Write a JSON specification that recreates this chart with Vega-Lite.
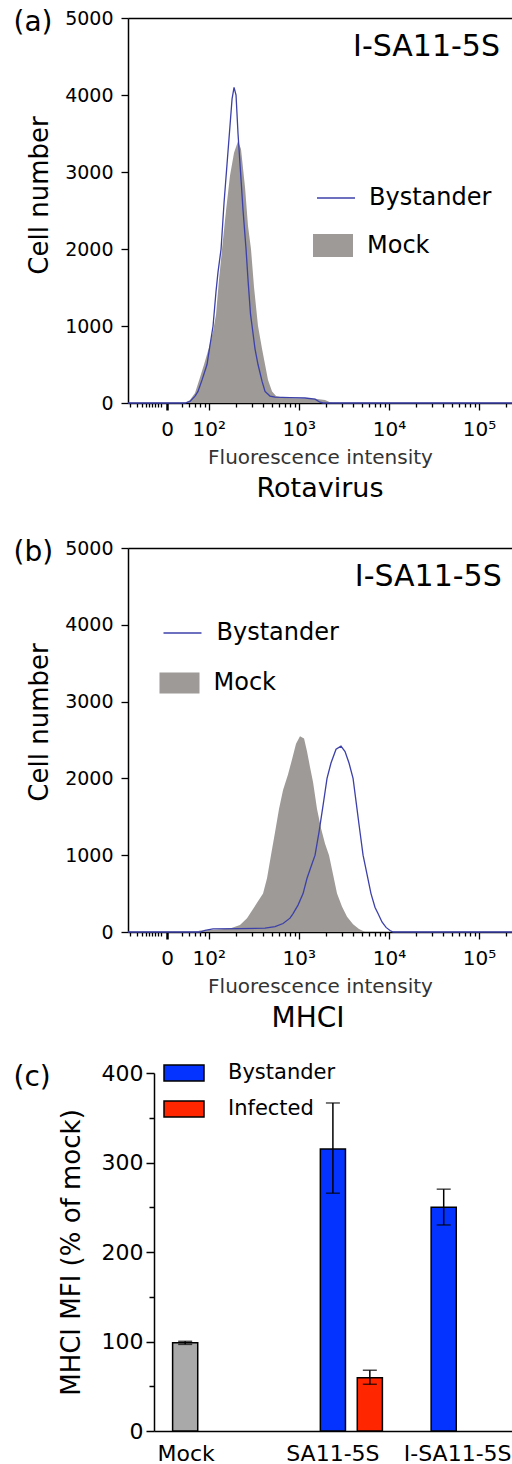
{
  "$schema": "https://vega.github.io/schema/vega-lite/v6.json",
  "padding": {"left": 13, "top": 8, "right": 0, "bottom": 0},
  "config": {
    "font": "DejaVu Sans",
    "view": {"stroke": null},
    "axis": {"grid": false, "domainColor": "#000", "tickColor": "#000", "labelColor": "#000", "titleColor": "#000", "titleFontWeight": "normal", "domainWidth": 1.5, "tickWidth": 1.3},
    "legend": {"padding": 0, "labelColor": "#000"}
  },
  "datasets": {
    "hist_a": [
      {"cells": "Mock", "log10_fi": 1.104, "count": 0}, {"cells": "Mock", "log10_fi": 1.737, "count": 0}, {"cells": "Mock", "log10_fi": 1.792, "count": 40}, {"cells": "Mock", "log10_fi": 1.848, "count": 130}, {"cells": "Mock", "log10_fi": 1.903, "count": 330}, {"cells": "Mock", "log10_fi": 1.948, "count": 500}, {"cells": "Mock", "log10_fi": 2.003, "count": 720}, {"cells": "Mock", "log10_fi": 2.048, "count": 930}, {"cells": "Mock", "log10_fi": 2.081, "count": 1150}, {"cells": "Mock", "log10_fi": 2.114, "count": 1600}, {"cells": "Mock", "log10_fi": 2.148, "count": 2000}, {"cells": "Mock", "log10_fi": 2.192, "count": 2500}, {"cells": "Mock", "log10_fi": 2.236, "count": 2950}, {"cells": "Mock", "log10_fi": 2.281, "count": 3250}, {"cells": "Mock", "log10_fi": 2.325, "count": 3400}, {"cells": "Mock", "log10_fi": 2.358, "count": 3300}, {"cells": "Mock", "log10_fi": 2.403, "count": 2800}, {"cells": "Mock", "log10_fi": 2.436, "count": 2300}, {"cells": "Mock", "log10_fi": 2.469, "count": 2000}, {"cells": "Mock", "log10_fi": 2.503, "count": 1500}, {"cells": "Mock", "log10_fi": 2.547, "count": 1000}, {"cells": "Mock", "log10_fi": 2.592, "count": 700}, {"cells": "Mock", "log10_fi": 2.625, "count": 500}, {"cells": "Mock", "log10_fi": 2.658, "count": 300}, {"cells": "Mock", "log10_fi": 2.703, "count": 150}, {"cells": "Mock", "log10_fi": 2.747, "count": 90}, {"cells": "Mock", "log10_fi": 2.847, "count": 65}, {"cells": "Mock", "log10_fi": 3.013, "count": 60}, {"cells": "Mock", "log10_fi": 3.18, "count": 55}, {"cells": "Mock", "log10_fi": 3.291, "count": 40}, {"cells": "Mock", "log10_fi": 3.346, "count": 10}, {"cells": "Mock", "log10_fi": 3.38, "count": 0}, {"cells": "Mock", "log10_fi": 5.366, "count": 0},
      {"cells": "Bystander", "log10_fi": 1.104, "count": 0}, {"cells": "Bystander", "log10_fi": 1.737, "count": 0}, {"cells": "Bystander", "log10_fi": 1.792, "count": 20}, {"cells": "Bystander", "log10_fi": 1.848, "count": 90}, {"cells": "Bystander", "log10_fi": 1.881, "count": 150}, {"cells": "Bystander", "log10_fi": 1.926, "count": 300}, {"cells": "Bystander", "log10_fi": 1.981, "count": 500}, {"cells": "Bystander", "log10_fi": 2.014, "count": 750}, {"cells": "Bystander", "log10_fi": 2.048, "count": 1000}, {"cells": "Bystander", "log10_fi": 2.081, "count": 1450}, {"cells": "Bystander", "log10_fi": 2.103, "count": 1700}, {"cells": "Bystander", "log10_fi": 2.137, "count": 2000}, {"cells": "Bystander", "log10_fi": 2.17, "count": 2600}, {"cells": "Bystander", "log10_fi": 2.203, "count": 3100}, {"cells": "Bystander", "log10_fi": 2.236, "count": 3600}, {"cells": "Bystander", "log10_fi": 2.259, "count": 3950}, {"cells": "Bystander", "log10_fi": 2.281, "count": 4100}, {"cells": "Bystander", "log10_fi": 2.303, "count": 4000}, {"cells": "Bystander", "log10_fi": 2.325, "count": 3500}, {"cells": "Bystander", "log10_fi": 2.353, "count": 3000}, {"cells": "Bystander", "log10_fi": 2.381, "count": 2500}, {"cells": "Bystander", "log10_fi": 2.414, "count": 2000}, {"cells": "Bystander", "log10_fi": 2.436, "count": 1600}, {"cells": "Bystander", "log10_fi": 2.464, "count": 1150}, {"cells": "Bystander", "log10_fi": 2.481, "count": 1000}, {"cells": "Bystander", "log10_fi": 2.514, "count": 700}, {"cells": "Bystander", "log10_fi": 2.547, "count": 500}, {"cells": "Bystander", "log10_fi": 2.592, "count": 280}, {"cells": "Bystander", "log10_fi": 2.625, "count": 150}, {"cells": "Bystander", "log10_fi": 2.68, "count": 90}, {"cells": "Bystander", "log10_fi": 2.736, "count": 75}, {"cells": "Bystander", "log10_fi": 2.902, "count": 70}, {"cells": "Bystander", "log10_fi": 3.069, "count": 65}, {"cells": "Bystander", "log10_fi": 3.18, "count": 50}, {"cells": "Bystander", "log10_fi": 3.235, "count": 10}, {"cells": "Bystander", "log10_fi": 3.269, "count": 0}, {"cells": "Bystander", "log10_fi": 5.366, "count": 0}
    ],
    "hist_b": [
      {"cells": "Mock", "log10_fi": 1.104, "count": 0}, {"cells": "Mock", "log10_fi": 1.848, "count": 0}, {"cells": "Mock", "log10_fi": 1.903, "count": 20}, {"cells": "Mock", "log10_fi": 2.07, "count": 30}, {"cells": "Mock", "log10_fi": 2.236, "count": 45}, {"cells": "Mock", "log10_fi": 2.347, "count": 90}, {"cells": "Mock", "log10_fi": 2.425, "count": 180}, {"cells": "Mock", "log10_fi": 2.481, "count": 280}, {"cells": "Mock", "log10_fi": 2.547, "count": 400}, {"cells": "Mock", "log10_fi": 2.603, "count": 500}, {"cells": "Mock", "log10_fi": 2.647, "count": 700}, {"cells": "Mock", "log10_fi": 2.691, "count": 1000}, {"cells": "Mock", "log10_fi": 2.736, "count": 1300}, {"cells": "Mock", "log10_fi": 2.78, "count": 1600}, {"cells": "Mock", "log10_fi": 2.825, "count": 1850}, {"cells": "Mock", "log10_fi": 2.88, "count": 2050}, {"cells": "Mock", "log10_fi": 2.925, "count": 2250}, {"cells": "Mock", "log10_fi": 2.969, "count": 2450}, {"cells": "Mock", "log10_fi": 3.013, "count": 2550}, {"cells": "Mock", "log10_fi": 3.058, "count": 2520}, {"cells": "Mock", "log10_fi": 3.091, "count": 2350}, {"cells": "Mock", "log10_fi": 3.124, "count": 2150}, {"cells": "Mock", "log10_fi": 3.158, "count": 1950}, {"cells": "Mock", "log10_fi": 3.202, "count": 1600}, {"cells": "Mock", "log10_fi": 3.246, "count": 1350}, {"cells": "Mock", "log10_fi": 3.291, "count": 1150}, {"cells": "Mock", "log10_fi": 3.335, "count": 1000}, {"cells": "Mock", "log10_fi": 3.38, "count": 750}, {"cells": "Mock", "log10_fi": 3.424, "count": 500}, {"cells": "Mock", "log10_fi": 3.48, "count": 330}, {"cells": "Mock", "log10_fi": 3.535, "count": 200}, {"cells": "Mock", "log10_fi": 3.602, "count": 100}, {"cells": "Mock", "log10_fi": 3.668, "count": 40}, {"cells": "Mock", "log10_fi": 3.735, "count": 0}, {"cells": "Mock", "log10_fi": 5.366, "count": 0},
      {"cells": "Bystander", "log10_fi": 1.104, "count": 0}, {"cells": "Bystander", "log10_fi": 1.903, "count": 0}, {"cells": "Bystander", "log10_fi": 1.959, "count": 20}, {"cells": "Bystander", "log10_fi": 2.048, "count": 40}, {"cells": "Bystander", "log10_fi": 2.347, "count": 45}, {"cells": "Bystander", "log10_fi": 2.625, "count": 50}, {"cells": "Bystander", "log10_fi": 2.736, "count": 70}, {"cells": "Bystander", "log10_fi": 2.825, "count": 110}, {"cells": "Bystander", "log10_fi": 2.902, "count": 180}, {"cells": "Bystander", "log10_fi": 2.936, "count": 240}, {"cells": "Bystander", "log10_fi": 2.991, "count": 350}, {"cells": "Bystander", "log10_fi": 3.047, "count": 500}, {"cells": "Bystander", "log10_fi": 3.091, "count": 700}, {"cells": "Bystander", "log10_fi": 3.135, "count": 850}, {"cells": "Bystander", "log10_fi": 3.18, "count": 1000}, {"cells": "Bystander", "log10_fi": 3.224, "count": 1300}, {"cells": "Bystander", "log10_fi": 3.269, "count": 1650}, {"cells": "Bystander", "log10_fi": 3.313, "count": 2000}, {"cells": "Bystander", "log10_fi": 3.357, "count": 2200}, {"cells": "Bystander", "log10_fi": 3.413, "count": 2380}, {"cells": "Bystander", "log10_fi": 3.468, "count": 2420}, {"cells": "Bystander", "log10_fi": 3.513, "count": 2350}, {"cells": "Bystander", "log10_fi": 3.557, "count": 2200}, {"cells": "Bystander", "log10_fi": 3.602, "count": 2000}, {"cells": "Bystander", "log10_fi": 3.635, "count": 1700}, {"cells": "Bystander", "log10_fi": 3.668, "count": 1400}, {"cells": "Bystander", "log10_fi": 3.713, "count": 1000}, {"cells": "Bystander", "log10_fi": 3.757, "count": 750}, {"cells": "Bystander", "log10_fi": 3.801, "count": 500}, {"cells": "Bystander", "log10_fi": 3.846, "count": 320}, {"cells": "Bystander", "log10_fi": 3.879, "count": 240}, {"cells": "Bystander", "log10_fi": 3.923, "count": 130}, {"cells": "Bystander", "log10_fi": 3.968, "count": 60}, {"cells": "Bystander", "log10_fi": 4.012, "count": 20}, {"cells": "Bystander", "log10_fi": 4.046, "count": 0}, {"cells": "Bystander", "log10_fi": 5.366, "count": 0}
    ],
    "mfi": [
      {"condition": "Mock", "cells": "Mock", "mfi": 98.5, "lo": 96.8, "hi": 100.2},
      {"condition": "SA11-5S", "cells": "Bystander", "mfi": 315, "lo": 265.7, "hi": 366.5},
      {"condition": "SA11-5S", "cells": "Infected", "mfi": 59.5, "lo": 52.2, "hi": 67.9},
      {"condition": "I-SA11-5S", "cells": "Bystander", "mfi": 250, "lo": 230.2, "hi": 270.2}
    ]
  },
  "spacing": 24,
  "resolve": {"scale": {"fill": "independent", "stroke": "independent"}, "legend": {"fill": "independent", "stroke": "independent"}},
  "vconcat": [
    {
      "width": 384, "height": 385,
      "title": {"text": "Rotavirus", "orient": "bottom", "anchor": "middle", "frame": "group", "fontSize": 27, "fontWeight": "normal", "offset": 9, "color": "#000"},
      "layer": [
        {
          "data": {"name": "hist_a"},
          "transform": [{"filter": "datum.cells == 'Mock'"}],
          "mark": {"type": "area", "interpolate": "linear"},
          "encoding": {
            "x": {"field": "log10_fi", "type": "quantitative", "scale": {"domain": [1.104, 5.366], "nice": false, "zero": false},
              "axis": {"orient": "bottom", "values": [1.13, 1.2, 1.26, 1.3, 1.335, 1.37, 1.405, 1.44, 1.475, 1.537, 1.699, 1.778, 1.845, 1.903, 1.954, 2, 2.301, 2.477, 2.602, 2.699, 2.778, 2.845, 2.903, 2.954, 3, 3.301, 3.477, 3.602, 3.699, 3.778, 3.845, 3.903, 3.954, 4, 4.301, 4.477, 4.602, 4.699, 4.778, 4.845, 4.903, 4.954, 5, 5.301],
                "labelExpr": "datum.value == 1.537 ? '0' : datum.value == 2 ? '10²' : datum.value == 3 ? '10³' : datum.value == 4 ? '10⁴' : datum.value == 5 ? '10⁵' : ''",
                "tickSize": {"condition": {"test": "datum.value == 1.537 || datum.value == 2 || datum.value == 3 || datum.value == 4 || datum.value == 5", "value": 7}, "value": 4},
                "tickWidth": {"condition": {"test": "datum.value == 1.537", "value": 2.5}, "value": 1.3},
                "labelFontSize": 20, "labelPadding": 9, "labelOverlap": false, "labelFlush": false,
                "title": "Fluorescence intensity", "titleFontSize": 20, "titleColor": "#333", "titlePadding": 8}},
            "y": {"field": "count", "type": "quantitative", "scale": {"domain": [0, 5000], "nice": false},
              "axis": {"values": [0, 250, 500, 750, 1000, 1250, 1500, 1750, 2000, 2250, 2500, 2750, 3000, 3250, 3500, 3750, 4000, 4250, 4500, 4750, 5000],
                "labelExpr": "datum.value % 1000 == 0 ? '' + datum.value : ''",
                "tickSize": {"condition": {"test": "datum.value % 1000 == 0", "value": 7}, "value": 4},
                "labelFontSize": 19, "labelPadding": 8, "labelOverlap": false, "labelFlush": false,
                "title": "Cell number", "titleFontSize": 26, "titleX": -89, "titleY": 177, "titleAngle": -90, "titleAlign": "center", "titleBaseline": "middle"}},
            "fill": {"field": "cells", "type": "nominal", "scale": {"domain": ["Mock"], "range": ["#9d9a97"]},
              "legend": {"orient": "none", "legendX": 185, "legendY": 207.5, "title": null, "symbolType": "M-1,-0.575H1V0.575H-1Z", "symbolSize": 1600, "symbolStrokeWidth": 0, "labelFontSize": 24, "labelOffset": 14}}
          }
        },
        {
          "data": {"name": "hist_a"},
          "transform": [{"filter": "datum.cells == 'Bystander'"}],
          "mark": {"type": "line", "strokeWidth": 1.3},
          "encoding": {
            "x": {"field": "log10_fi", "type": "quantitative",
              "axis": {"orient": "top", "ticks": false, "labels": false, "domain": true, "title": "(a)", "titleFontSize": 28, "titleAngle": 0, "titleAlign": "left", "titleBaseline": "top", "titleX": -115, "titleY": -10}},
            "y": {"field": "count", "type": "quantitative"},
            "stroke": {"field": "cells", "type": "nominal", "scale": {"domain": ["Bystander"], "range": ["#3c40a8"]},
              "legend": {"orient": "none", "legendX": 188, "legendY": 160, "title": null, "symbolType": "stroke", "symbolSize": 1444, "symbolStrokeWidth": 1.5, "labelFontSize": 24, "labelOffset": 13}}
          }
        },
        {
          "data": {"values": [{}]},
          "mark": {"type": "text", "text": "I-SA11-5S", "align": "right", "baseline": "middle", "fontSize": 30, "color": "#000"},
          "encoding": {
            "x": {"datum": 5.233, "type": "quantitative", "axis": null},
            "y": {"datum": 4623, "type": "quantitative"}
          }
        }
      ],
      "resolve": {"axis": {"x": "independent"}}
    },
    {
      "width": 384, "height": 384,
      "title": {"text": "MHCI", "orient": "bottom", "anchor": "middle", "frame": "group", "fontSize": 28, "fontWeight": "normal", "offset": 9, "dx": -12, "color": "#000"},
      "layer": [
        {
          "data": {"name": "hist_b"},
          "transform": [{"filter": "datum.cells == 'Mock'"}],
          "mark": {"type": "area", "interpolate": "linear"},
          "encoding": {
            "x": {"field": "log10_fi", "type": "quantitative", "scale": {"domain": [1.104, 5.366], "nice": false, "zero": false},
              "axis": {"orient": "bottom", "values": [1.13, 1.2, 1.26, 1.3, 1.335, 1.37, 1.405, 1.44, 1.475, 1.537, 1.699, 1.778, 1.845, 1.903, 1.954, 2, 2.301, 2.477, 2.602, 2.699, 2.778, 2.845, 2.903, 2.954, 3, 3.301, 3.477, 3.602, 3.699, 3.778, 3.845, 3.903, 3.954, 4, 4.301, 4.477, 4.602, 4.699, 4.778, 4.845, 4.903, 4.954, 5, 5.301],
                "labelExpr": "datum.value == 1.537 ? '0' : datum.value == 2 ? '10²' : datum.value == 3 ? '10³' : datum.value == 4 ? '10⁴' : datum.value == 5 ? '10⁵' : ''",
                "tickSize": {"condition": {"test": "datum.value == 1.537 || datum.value == 2 || datum.value == 3 || datum.value == 4 || datum.value == 5", "value": 7}, "value": 4},
                "tickWidth": {"condition": {"test": "datum.value == 1.537", "value": 2.5}, "value": 1.3},
                "labelFontSize": 20, "labelPadding": 9, "labelOverlap": false, "labelFlush": false,
                "title": "Fluorescence intensity", "titleFontSize": 20, "titleColor": "#333", "titlePadding": 8}},
            "y": {"field": "count", "type": "quantitative", "scale": {"domain": [0, 5000], "nice": false},
              "axis": {"values": [0, 250, 500, 750, 1000, 1250, 1500, 1750, 2000, 2250, 2500, 2750, 3000, 3250, 3500, 3750, 4000, 4250, 4500, 4750, 5000],
                "labelExpr": "datum.value % 1000 == 0 ? '' + datum.value : ''",
                "tickSize": {"condition": {"test": "datum.value % 1000 == 0", "value": 7}, "value": 4},
                "labelFontSize": 19, "labelPadding": 8, "labelOverlap": false, "labelFlush": false,
                "title": "Cell number", "titleFontSize": 26, "titleX": -89, "titleY": 174, "titleAngle": -90, "titleAlign": "center", "titleBaseline": "middle"}},
            "fill": {"field": "cells", "type": "nominal", "scale": {"domain": ["Mock"], "range": ["#9d9a97"]},
              "legend": {"orient": "none", "legendX": 31.5, "legendY": 115, "title": null, "symbolType": "M-1,-0.525H1V0.525H-1Z", "symbolSize": 1600, "symbolStrokeWidth": 0, "labelFontSize": 24, "labelOffset": 14}}
          }
        },
        {
          "data": {"name": "hist_b"},
          "transform": [{"filter": "datum.cells == 'Bystander'"}],
          "mark": {"type": "line", "strokeWidth": 1.3},
          "encoding": {
            "x": {"field": "log10_fi", "type": "quantitative",
              "axis": {"orient": "top", "ticks": true, "tickSize": 22, "tickOpacity": 0, "labels": false, "domain": true, "title": "(b)", "titleFontSize": 28, "titleAngle": 0, "titleAlign": "left", "titleBaseline": "top", "titleX": -115, "titleY": -10}},
            "y": {"field": "count", "type": "quantitative"},
            "stroke": {"field": "cells", "type": "nominal", "scale": {"domain": ["Bystander"], "range": ["#3c40a8"]},
              "legend": {"orient": "none", "legendX": 34.5, "legendY": 65, "title": null, "symbolType": "stroke", "symbolSize": 1444, "symbolStrokeWidth": 1.5, "labelFontSize": 24, "labelOffset": 14}}
          }
        },
        {
          "data": {"values": [{}]},
          "mark": {"type": "text", "text": "I-SA11-5S", "align": "right", "baseline": "middle", "fontSize": 30, "color": "#000"},
          "encoding": {
            "x": {"datum": 5.252, "type": "quantitative", "axis": null},
            "y": {"datum": 4628, "type": "quantitative"}
          }
        }
      ],
      "resolve": {"axis": {"x": "independent"}}
    },
    {
      "width": 384, "height": 358,
      "data": {"name": "mfi"},
      "layer": [
        {
          "mark": {"type": "bar", "stroke": "#000", "strokeWidth": 1.5},
          "encoding": {
            "x": {"field": "condition", "type": "nominal", "sort": ["Mock", "SA11-5S", "I-SA11-5S"], "scale": {"paddingInner": 0, "paddingOuter": 0.2329, "align": 0.75},
              "axis": {"orient": "bottom", "title": null, "ticks": false, "labelAngle": 0, "labelFontSize": 22, "labelPadding": 12, "domainWidth": 1.5,
                "encoding": {"domain": {"x": {"value": 26}}},
                "labelOffset": {"condition": [{"test": "datum.value == 'Mock'", "value": -36}, {"test": "datum.value == 'I-SA11-5S'", "value": 14}], "value": 0}}},
            "xOffset": {"field": "cells", "type": "nominal", "scale": {"domain": ["Mock", "Bystander", "Infected"], "paddingInner": 0.32, "paddingOuter": 0.16}},
            "y": {"field": "mfi", "type": "quantitative", "scale": {"domain": [0, 400], "nice": false},
              "axis": {"offset": -26, "values": [0, 50, 100, 150, 200, 250, 300, 350, 400],
                "labelExpr": "datum.value % 100 == 0 ? '' + datum.value : ''",
                "tickSize": {"condition": {"test": "datum.value % 100 == 0", "value": 8}, "value": 5},
                "tickWidth": 1.5, "labelFontSize": 22, "labelPadding": 3, "labelOverlap": false, "labelFlush": false,
                "title": "MHCI MFI (% of mock)", "titleFontSize": 26, "titleX": -83, "titleY": 179, "titleAngle": -90, "titleAlign": "center", "titleBaseline": "middle"}},
            "fill": {"field": "cells", "type": "nominal", "scale": {"domain": ["Mock", "Bystander", "Infected"], "range": ["#a9a9a9", "#0433ff", "#ff2600"]},
              "legend": {"values": ["Bystander", "Infected"], "orient": "none", "legendX": 40, "legendY": -16, "title": null, "symbolType": "M-1.333,-0.533H1.333V0.533H-1.333Z", "symbolSize": 900, "symbolStrokeColor": "#000", "symbolStrokeWidth": 1.5, "labelFontSize": 21, "labelOffset": 28, "rowPadding": 9}}
          }
        },
        {
          "mark": {"type": "rule", "strokeWidth": 1.5, "color": "#000"},
          "encoding": {
            "x": {"field": "condition", "type": "nominal", "sort": ["Mock", "SA11-5S", "I-SA11-5S"],
              "axis": {"orient": "top", "domain": false, "ticks": false, "labels": false, "title": "(c)", "titleFontSize": 28, "titleAngle": 0, "titleAlign": "left", "titleBaseline": "top", "titleX": -115, "titleY": -10}},
            "xOffset": {"field": "cells", "type": "nominal"},
            "y": {"field": "lo", "type": "quantitative"},
            "y2": {"field": "hi"}
          }
        },
        {
          "mark": {"type": "tick", "size": 14, "thickness": 1.5, "color": "#000"},
          "encoding": {
            "x": {"field": "condition", "type": "nominal", "sort": ["Mock", "SA11-5S", "I-SA11-5S"], "axis": null},
            "xOffset": {"field": "cells", "type": "nominal"},
            "y": {"field": "hi", "type": "quantitative"}
          }
        },
        {
          "mark": {"type": "tick", "size": 14, "thickness": 1.5, "color": "#000"},
          "encoding": {
            "x": {"field": "condition", "type": "nominal", "sort": ["Mock", "SA11-5S", "I-SA11-5S"], "axis": null},
            "xOffset": {"field": "cells", "type": "nominal"},
            "y": {"field": "lo", "type": "quantitative"}
          }
        }
      ],
      "resolve": {"axis": {"x": "independent"}}
    }
  ]
}
